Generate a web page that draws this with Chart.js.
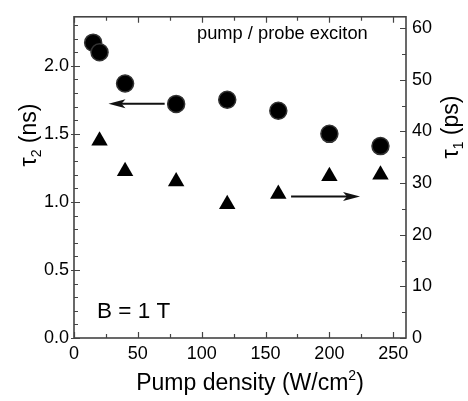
<!DOCTYPE html>
<html>
<head>
<meta charset="utf-8">
<script src="https://cdn.jsdelivr.net/npm/chart.js@4.4.1/dist/chart.umd.min.js"></script>
<style>
  html, body { margin:0; padding:0; background:#fff; }
  canvas { display:block; }
</style>
</head>
<body>
<canvas id="c" width="468" height="401" style="width:468px;height:401px;"></canvas>
<script>
// pump density (W/cm^2) for each measurement
const densTau2 = [15, 20, 40, 80, 120, 160, 200, 240];
const tau2 = [2.17, 2.10, 1.87, 1.72, 1.75, 1.67, 1.50, 1.41];   // ns, left axis (circles)
const densTau1 = [20, 40, 80, 120, 160, 200, 240];
const tau1 = [38.2, 32.3, 30.3, 25.9, 27.9, 31.3, 31.6];        // ps, right axis (triangles)

const xTicks = [0, 50, 100, 150, 200, 250];
const yTicks = [0, 0.5, 1.0, 1.5, 2.0];
const y1Ticks = [0, 10, 20, 30, 40, 50, 60];

// arrows in data units: [xFrom, xTo, y]
const arrowLeft = [71, 27, 1.722];   // points to tau2 axis
const arrowRight = [170, 224, 27.4]; // points to tau1 axis

const AXIS = '#444', INK = '#000';
const FONT = '"Liberation Sans", Arial, sans-serif';

const fixTicks = list => scale => { scale.ticks = list.map(v => ({ value: v })); };

const frame = {
  id: 'frame',
  afterDraw(chart) {
    const { ctx, chartArea: a, scales: { x, y, y1 } } = chart;
    ctx.save();
    ctx.strokeStyle = AXIS;
    ctx.lineWidth = 1.6;
    ctx.strokeRect(a.left, a.top, a.right - a.left, a.bottom - a.top);

    ctx.lineWidth = 1.2;
    ctx.beginPath();
    // x ticks, bottom + top, pointing in
    for (let v = 0; v <= 260; v += 25) {
      const px = Math.round(x.getPixelForValue(v)) + 0.5;
      const len = v % 50 === 0 ? 6 : 4;
      ctx.moveTo(px, a.bottom); ctx.lineTo(px, a.bottom - len);
      ctx.moveTo(px, a.top); ctx.lineTo(px, a.top + len);
    }
    // left ticks
    for (let i = 0; i <= 23; i++) {
      const v = i / 10;
      const py = Math.round(y.getPixelForValue(v)) + 0.5;
      const major = i % 5 === 0;
      ctx.moveTo(a.left - (major ? 3 : 0), py); ctx.lineTo(a.left + (major ? 6 : 4), py);
    }
    // right ticks
    for (let v = 0; v <= 60; v += 5) {
      const py = Math.round(y1.getPixelForValue(v)) + 0.5;
      const len = v % 10 === 0 ? 6 : 4;
      ctx.moveTo(a.right, py); ctx.lineTo(a.right - len, py);
    }
    ctx.stroke();

    // arrows
    const arrow = (sx, ex, py) => {
      const x0 = sx, x1 = ex, dir = Math.sign(x1 - x0);
      ctx.strokeStyle = '#111'; ctx.fillStyle = '#111'; ctx.lineWidth = 2;
      ctx.beginPath(); ctx.moveTo(x0, py); ctx.lineTo(x1 - dir * 10, py); ctx.stroke();
      ctx.beginPath();
      ctx.moveTo(x1, py);
      ctx.lineTo(x1 - dir * 17, py - 4.5);
      ctx.lineTo(x1 - dir * 13, py);
      ctx.lineTo(x1 - dir * 17, py + 4.5);
      ctx.closePath(); ctx.fill();
    };
    arrow(x.getPixelForValue(arrowLeft[0]), x.getPixelForValue(arrowLeft[1]), y.getPixelForValue(arrowLeft[2]));
    arrow(x.getPixelForValue(arrowRight[0]), x.getPixelForValue(arrowRight[1]), y1.getPixelForValue(arrowRight[2]));

    // labels
    ctx.fillStyle = INK;
    ctx.textBaseline = 'alphabetic';
    ctx.font = '18.3px ' + FONT;
    ctx.textAlign = 'left';
    ctx.fillText('pump / probe exciton', 197, 39);
    ctx.font = '22.5px ' + FONT;
    ctx.fillText('B = 1 T', 97, 318);

    // x title with superscript
    const big = '23px ' + FONT, small = '14px ' + FONT;
    const parts = (segs) => {
      let w = 0;
      segs.forEach(s => { ctx.font = s.f; w += ctx.measureText(s.t).width; });
      return w;
    };
    const drawSegs = (segs, x0, y0) => {
      let cx = x0;
      segs.forEach(s => {
        ctx.font = s.f;
        ctx.fillText(s.t, cx, y0 + (s.dy || 0));
        cx += ctx.measureText(s.t).width;
      });
    };
    const xt = [{ t: 'Pump density (W/cm', f: big }, { t: '2', f: small, dy: -10 }, { t: ')', f: big }];
    drawSegs(xt, 250 - parts(xt) / 2, 390);

    const yTitle = (sub, unit, cx, cy) => {
      const segs = [{ t: '\u03c4', f: big }, { t: sub, f: small, dy: 5 }, { t: ' (' + unit + ')', f: big }];
      ctx.save();
      ctx.translate(cx, cy);
      ctx.rotate(-Math.PI / 2);
      drawSegs(segs, -parts(segs) / 2, 0);
      ctx.restore();
    };
    yTitle('2', 'ns', 36, 135);
    yTitle('1', 'ps', 458, 127);
    ctx.restore();
  }
};

const tickFont = { family: FONT, size: 18 };

new Chart(document.getElementById('c').getContext('2d'), {
  type: 'scatter',
  data: {
    datasets: [
      {
        data: densTau2.map((d, i) => ({ x: d, y: tau2[i] })),
        yAxisID: 'y',
        pointStyle: 'circle', pointRadius: 8.5,
        backgroundColor: '#000', borderColor: '#333', borderWidth: 1.5
      },
      {
        data: densTau1.map((d, i) => ({ x: d, y: tau1[i] })),
        yAxisID: 'y1',
        pointStyle: 'triangle', pointRadius: 9.5,
        backgroundColor: '#000', borderColor: '#000', borderWidth: 0
      }
    ]
  },
  options: {
    responsive: false, animation: false,
    layout: { padding: { top: 6, left: 0, right: 0, bottom: 0 } },
    plugins: { legend: { display: false }, tooltip: { enabled: false } },
    scales: {
      x: {
        type: 'linear', position: 'bottom', min: 0, max: 260,
        grid: { display: false, drawTicks: false }, border: { display: false },
        ticks: { color: INK, font: tickFont, padding: 5, maxRotation: 0 },
        afterBuildTicks: fixTicks(xTicks),
        afterFit(s) { s.height = 63; }
      },
      y: {
        type: 'linear', position: 'left', min: 0, max: 2.36,
        grid: { display: false, drawTicks: false }, border: { display: false },
        ticks: { color: INK, font: tickFont, padding: 5, callback: v => v.toFixed(1) },
        afterBuildTicks: fixTicks(yTicks),
        afterFit(s) { s.width = 74; }
      },
      y1: {
        type: 'linear', position: 'right', min: 0, max: 62.2,
        grid: { display: false, drawTicks: false }, border: { display: false },
        ticks: { color: INK, font: tickFont, padding: 6 },
        afterBuildTicks: fixTicks(y1Ticks),
        afterFit(s) { s.width = 62; }
      }
    }
  },
  plugins: [frame]
});
</script>
</body>
</html>
